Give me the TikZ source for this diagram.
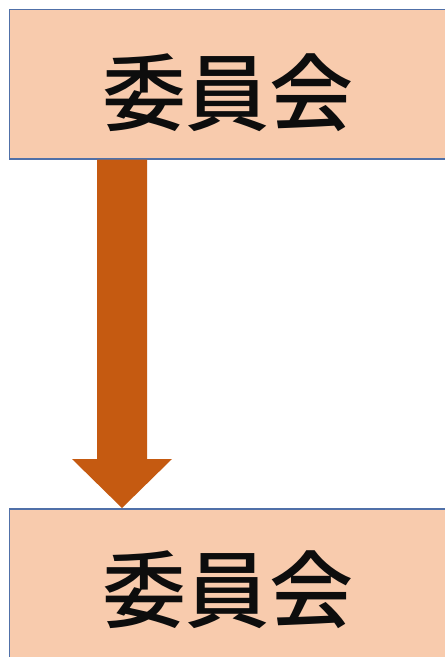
\documentclass[tikz,border=0pt]{standalone}
\usepackage{fontspec}
\newfontfamily\cjk{Noto Sans CJK JP}[UprightFont={* Medium}]
\usetikzlibrary{calc}
\definecolor{boxfill}{HTML}{F8CBAD}
\definecolor{boxline}{HTML}{5070A8}
\definecolor{arrowc}{HTML}{C55A11}
\tikzset{
  box/.style={draw=boxline, line width=1.6pt, fill=boxfill, rectangle, inner sep=0pt},
  label/.style={font=\cjk\fontsize{84}{84}\selectfont, text=black!95},
}
\begin{document}
\begin{tikzpicture}[x=1pt,y=-1pt]
\useasboundingbox (0,0) rectangle (445,657);
\clip (0,0) rectangle (445,657);
\fill[white] (0,0) rectangle (445,657);
\node[box, minimum width=460pt, minimum height=149.5pt, anchor=north west] (top) at (8.5,8.5) {};
\node[label] (toptext) at (228,93) {委員会};
\node[box, minimum width=460pt, minimum height=180pt, anchor=north west] (bot) at (8.5,508) {};
\node[label] (bottext) at (228,590) {委員会};
\coordinate (tip) at (122,508);
\fill[arrowc] ($(top.south west)+(88.5,0)$) -- ($(top.south west)+(138.5,0)$)
  -- (147,459) -- (172,459) -- (tip) -- (72,459) -- (97,459) -- cycle;
\end{tikzpicture}
\end{document}
